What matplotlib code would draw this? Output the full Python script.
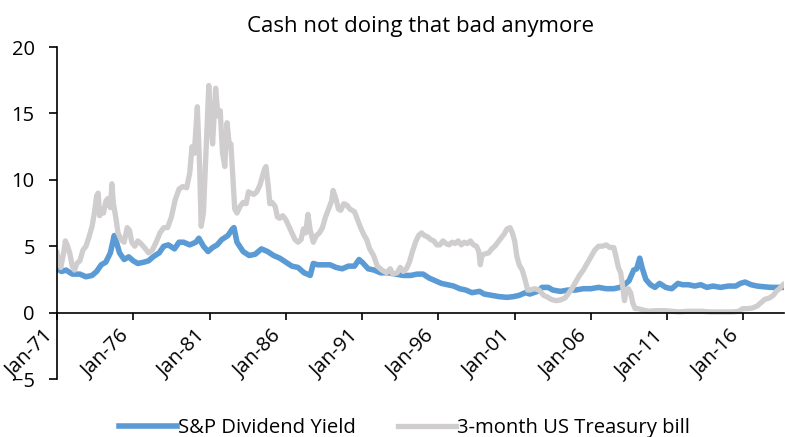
import matplotlib
matplotlib.use('Agg')
import matplotlib.pyplot as plt

# S&P dividend yield (%)
div_years = [1971.0, 1971.3, 1971.6, 1972.0, 1972.5, 1972.9, 1973.3, 1973.6, 1973.9, 1974.2,
             1974.5, 1974.75, 1974.9, 1975.1, 1975.4, 1975.7, 1976.0, 1976.3, 1976.7, 1977.0,
             1977.3, 1977.7, 1978.0, 1978.3, 1978.7, 1979.0, 1979.3, 1979.7, 1980.1, 1980.3,
             1980.6, 1980.9, 1981.2, 1981.5, 1981.8, 1982.2, 1982.5, 1982.6, 1982.8, 1983.2,
             1983.6, 1984.0, 1984.4, 1984.8, 1985.2, 1985.6, 1986.0, 1986.4, 1986.8, 1987.2,
             1987.6, 1987.8, 1988.1, 1988.5, 1988.9, 1989.3, 1989.7, 1990.1, 1990.5, 1990.8,
             1991.0, 1991.4, 1991.8, 1992.2, 1992.7, 1993.2, 1993.7, 1994.2, 1994.6, 1995.0,
             1995.4, 1995.8, 1996.2, 1996.6, 1997.0, 1997.4, 1997.8, 1998.2, 1998.7, 1999.0,
             1999.5, 2000.0, 2000.5, 2000.9, 2001.3, 2001.7, 2002.0, 2002.5, 2002.8, 2003.2,
             2003.5, 2004.0, 2004.5, 2005.0, 2005.5, 2006.0, 2006.5, 2007.0, 2007.5, 2007.9,
             2008.2, 2008.5, 2008.8, 2009.0, 2009.2, 2009.35, 2009.6, 2009.9, 2010.2, 2010.5,
             2010.9, 2011.3, 2011.7, 2012.0, 2012.4, 2012.8, 2013.2, 2013.6, 2014.0, 2014.5,
             2015.0, 2015.5, 2015.8, 2016.1, 2016.5, 2016.9, 2017.3, 2017.8, 2018.2, 2018.6]
div_yield = [3.3, 3.1, 3.2, 2.9, 2.9, 2.7, 2.8, 3.1, 3.6, 3.8,
             4.5, 5.8, 5.3, 4.5, 4.0, 4.2, 3.9, 3.7, 3.8, 3.9,
             4.2, 4.5, 5.0, 5.1, 4.8, 5.3, 5.3, 5.1, 5.3, 5.6,
             5.0, 4.6, 4.9, 5.1, 5.5, 5.8, 6.3, 6.4, 5.3, 4.6,
             4.3, 4.4, 4.8, 4.6, 4.3, 4.1, 3.8, 3.5, 3.4, 3.0,
             2.8, 3.7, 3.6, 3.6, 3.6, 3.4, 3.3, 3.5, 3.5, 4.0,
             3.8, 3.3, 3.2, 3.0, 3.0, 2.9, 2.8, 2.8, 2.9, 2.9,
             2.6, 2.4, 2.2, 2.1, 2.0, 1.8, 1.7, 1.5, 1.6, 1.4,
             1.3, 1.2, 1.15, 1.2, 1.3, 1.5, 1.4, 1.6, 1.9, 1.9,
             1.7, 1.6, 1.7, 1.7, 1.8, 1.8, 1.9, 1.8, 1.8, 1.9,
             2.1, 2.4, 3.2, 3.3, 4.1, 3.4, 2.5, 2.1, 1.9, 2.2,
             1.9, 1.8, 2.2, 2.1, 2.1, 2.0, 2.1, 1.9, 2.0, 1.9,
             2.0, 2.0, 2.2, 2.3, 2.1, 2.0, 1.95, 1.9, 1.9, 1.9]

# 3-month US Treasury bill (%)
tb_years = [1971.0, 1971.1, 1971.25, 1971.45, 1971.55, 1971.7, 1971.85, 1972.0, 1972.15, 1972.3,
            1972.5, 1972.7, 1972.9, 1973.1, 1973.3, 1973.45, 1973.6, 1973.7, 1973.8, 1973.9,
            1974.05, 1974.2, 1974.35, 1974.5, 1974.6, 1974.7, 1974.85, 1975.0, 1975.2, 1975.4,
            1975.6, 1975.75, 1975.9, 1976.1, 1976.3, 1976.5, 1976.8, 1977.0, 1977.25, 1977.5,
            1977.75, 1978.0, 1978.25, 1978.5, 1978.75, 1979.0, 1979.25, 1979.5, 1979.7, 1979.85,
            1980.0, 1980.2, 1980.35, 1980.45, 1980.6, 1980.75, 1980.95, 1981.05, 1981.2, 1981.4,
            1981.55, 1981.7, 1981.85, 1982.0, 1982.15, 1982.3, 1982.4, 1982.55, 1982.65, 1982.8,
            1983.0, 1983.2, 1983.4, 1983.55, 1983.7, 1983.9, 1984.1, 1984.3, 1984.5, 1984.6,
            1984.7, 1984.85, 1984.95, 1985.1, 1985.3, 1985.45, 1985.6, 1985.8, 1986.0, 1986.2,
            1986.4, 1986.6, 1986.8, 1987.0, 1987.15, 1987.3, 1987.45, 1987.6, 1987.8, 1988.0,
            1988.2, 1988.4, 1988.6, 1988.8, 1989.0, 1989.1, 1989.3, 1989.45, 1989.6, 1989.8,
            1990.0, 1990.2, 1990.5, 1990.7, 1990.9, 1991.1, 1991.3, 1991.5, 1991.75, 1992.0,
            1992.3, 1992.6, 1992.85, 1993.0, 1993.3, 1993.5, 1993.7, 1993.9, 1994.1, 1994.3,
            1994.5, 1994.7, 1994.9, 1995.1, 1995.3, 1995.5, 1995.7, 1995.9, 1996.1, 1996.3,
            1996.5, 1996.7, 1996.9, 1997.1, 1997.3, 1997.5, 1997.7, 1997.9, 1998.1, 1998.3,
            1998.5, 1998.65, 1998.75, 1998.85, 1999.0, 1999.3, 1999.5, 1999.7, 1999.9, 2000.1,
            2000.3, 2000.5, 2000.7, 2000.85, 2001.0, 2001.15, 2001.3, 2001.5, 2001.7, 2001.85,
            2002.0, 2002.3, 2002.6, 2002.9, 2003.1, 2003.4, 2003.7, 2004.0, 2004.3, 2004.5,
            2004.75, 2005.0, 2005.25, 2005.5, 2005.75, 2006.0, 2006.25, 2006.5, 2006.75, 2007.0,
            2007.25, 2007.5, 2007.65, 2007.8, 2007.95, 2008.1, 2008.2, 2008.3, 2008.45, 2008.6,
            2008.75, 2008.9, 2009.1, 2009.4, 2009.8, 2010.3, 2010.8, 2011.3, 2011.8, 2012.3,
            2012.8, 2013.3, 2013.8, 2014.3, 2014.8, 2015.3, 2015.7, 2015.95, 2016.3, 2016.6,
            2016.9, 2017.15, 2017.4, 2017.7, 2017.95, 2018.15, 2018.35, 2018.6]
tbill = [4.5, 3.9, 3.4, 4.6, 5.4, 5.0, 4.4, 3.5, 3.2, 3.7,
         3.9, 4.7, 5.0, 5.7, 6.5, 7.5, 8.8, 9.0, 7.3, 7.8,
         7.5, 8.4, 8.6, 7.9, 9.7, 8.2, 7.2, 6.0, 5.5, 5.3,
         6.4, 6.2, 5.3, 5.0, 5.4, 5.2, 4.8, 4.5, 4.7, 5.3,
         6.0, 6.4, 6.4, 7.2, 8.5, 9.3, 9.5, 9.4, 10.5, 12.5,
         12.0, 15.5, 11.0, 6.5, 7.5, 11.6, 17.1, 14.8, 12.7, 16.9,
         14.8, 15.2, 12.0, 11.0, 14.3, 12.5, 12.7, 9.8, 7.8, 7.5,
         8.0, 8.3, 8.2, 9.1, 9.0, 8.9, 9.1, 9.6, 10.4, 10.8,
         11.0, 9.5, 8.2, 8.3, 8.0, 7.2, 7.1, 7.3, 7.0, 6.5,
         6.0, 5.5, 5.3, 5.5, 6.3, 6.0, 7.4, 6.2, 5.3, 5.8,
         6.0, 6.4, 7.2, 7.8, 8.4, 9.2, 8.5, 7.8, 7.7, 8.2,
         8.1, 7.8, 7.6, 7.0, 6.4, 5.9, 5.5, 4.8, 4.3, 3.5,
         3.2, 3.0, 3.3, 2.9, 3.0, 3.4, 3.1, 3.3, 3.8, 4.6,
         5.3, 5.8, 6.0, 5.8, 5.7, 5.5, 5.4, 5.1, 5.1, 5.4,
         5.2, 5.1, 5.3, 5.2, 5.4, 5.1, 5.3, 5.2, 5.4, 5.1,
         5.0, 4.6, 3.6, 4.3, 4.4, 4.5, 4.8, 5.0, 5.3, 5.6,
         5.9, 6.3, 6.4, 6.0, 5.4, 4.2, 3.6, 3.2, 2.4, 1.7,
         1.7, 1.8, 1.7, 1.3, 1.2, 1.0, 0.9, 0.95, 1.1, 1.4,
         1.8, 2.3, 2.8, 3.2, 3.7, 4.2, 4.7, 5.0, 5.0, 5.1,
         4.9, 4.9, 4.2, 3.4, 3.0, 1.8, 0.9, 1.6, 1.8, 1.5,
         0.7, 0.3, 0.3, 0.2, 0.1, 0.15, 0.15, 0.1, 0.05, 0.1,
         0.1, 0.1, 0.05, 0.05, 0.05, 0.05, 0.1, 0.3, 0.3, 0.35,
         0.5, 0.75, 1.0, 1.1, 1.3, 1.6, 1.8, 2.1]

tick_years = list(range(1971, 2017, 5))
tick_labels = ['Jan-%02d' % (y % 100) for y in tick_years]

plt.rcParams['font.family'] = ['Open Sans', 'DejaVu Sans']

fig = plt.figure(figsize=(7.85, 4.37), dpi=100)
ax = fig.add_axes([0.0726, 0.1327, 0.926, 0.7597])

ax.plot(div_years, div_yield, color='#5b9bd5', lw=4, solid_joinstyle='round',
        label='S&P Dividend Yield')
ax.plot(tb_years, tbill, color='#cfcdcd', lw=3.8, solid_joinstyle='round',
        label='3-month US Treasury bill')

ax.set_xlim(1971, 2018.65)
ax.set_ylim(-5, 20)
ax.set_yticks([-5, 0, 5, 10, 15, 20])
ax.set_xticks(tick_years)
ax.set_xticklabels(tick_labels)

for s in ['top', 'right']:
    ax.spines[s].set_visible(False)
ax.spines['bottom'].set_position(('data', 0))
ax.spines['left'].set_linewidth(1.2)
ax.spines['bottom'].set_linewidth(1.2)

ax.tick_params(axis='y', direction='out', length=6, width=1.2, pad=10, labelsize=14.5)
ax.tick_params(axis='x', direction='out', length=5, width=1.2, pad=5, labelsize=14.5)
plt.setp(ax.get_xticklabels(), rotation=45, ha='right', va='top')

ax.set_title('Cash not doing that bad anymore', fontsize=16, pad=11)

fig.legend(loc='lower center', bbox_to_anchor=(0.515, -0.045), ncol=2, frameon=False,
           fontsize=14.6, handlelength=2.85, handletextpad=0.05, columnspacing=2.1)

plt.savefig('out.png', dpi=100)
plt.close()
